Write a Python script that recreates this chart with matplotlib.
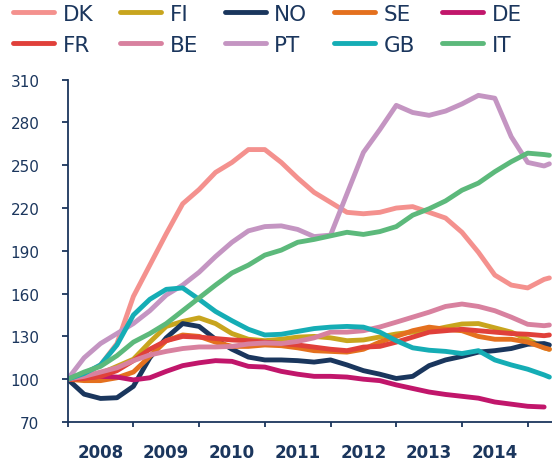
import numpy as np
import matplotlib.pyplot as plt
from matplotlib.ticker import FixedLocator, NullFormatter, FixedFormatter

# quarterly readings, index 2008Q1 = 100
years = [2008.0, 2008.25, 2008.5, 2008.75, 2009.0, 2009.25, 2009.5, 2009.75,
         2010.0, 2010.25, 2010.5, 2010.75, 2011.0, 2011.25, 2011.5, 2011.75,
         2012.0, 2012.25, 2012.5, 2012.75, 2013.0, 2013.25, 2013.5, 2013.75,
         2014.0, 2014.25, 2014.5, 2014.75, 2015.0, 2015.25, 2015.33]

dk = [100, 103, 110, 125, 158, 180, 202, 223, 233, 245, 252, 261, 261, 252, 241, 231,
      224, 217, 216, 217, 220, 221, 217, 213, 203, 189, 173, 166, 164, 170, 171]
fi = [100, 102, 104, 109, 114, 126, 137, 140.5, 143, 139, 132, 128, 127, 128, 129.5, 130,
      129, 127, 127.5, 129.6, 131.7, 133, 134, 136.5, 138.7, 139, 136, 133, 128, 122, 121]
no = [100, 89.5, 86.5, 87, 95, 115, 129, 139, 137, 128, 121, 115.5, 113.5, 113.5, 113, 112,
      113.5, 110, 106, 103.5, 100.5, 102, 109.5, 113.5, 116, 119, 120, 121.5, 124.5, 125, 124]
se = [100, 99, 99, 101, 105, 116, 127, 131, 130, 126, 123, 123, 124, 123.5, 122, 120,
      119.5, 119, 121, 126, 130, 134, 136.5, 135, 134, 130, 128, 128, 126, 122, 121]
de = [100, 101, 102, 101.5, 99.5, 101, 105.5, 109.5, 111.5, 113, 112.5, 109, 108.5, 105.5, 103.5, 102,
      102, 101.5, 100, 99, 96, 93.5, 91, 89.3, 88, 86.7, 84, 82.5, 81, 80.5, np.nan]
fr = [100, 100.5, 102, 106, 113, 121, 127, 130, 129.5, 128.5, 127.5, 127, 126, 125, 124, 122.5,
      121, 120, 122.5, 123, 126, 129.5, 133, 134, 135, 134, 133, 132, 131.5, 130.5, 131]
be = [100, 102, 105, 108, 113, 117, 119.5, 121.5, 122.6, 122.6, 123, 124.7, 125.4, 125, 126.5, 129,
      133, 133, 134, 136.6, 140, 143.5, 147, 151, 152.7, 151, 148, 143.5, 138.5, 137.5, 138]
pt = [100, 115, 125, 132, 139, 148, 159, 166, 175, 186, 196, 204, 207, 207.5, 205, 200,
      201, 230, 259, 275, 292, 287, 285, 288, 293, 299, 297, 270, 252, 249.5, 251]
gb = [100, 104, 110, 124, 145, 156, 163, 164, 156, 147.5, 141, 135, 131, 131.5, 133.5, 135.5,
      136.5, 137, 136.5, 133, 127, 122, 120.3, 119.5, 118, 120, 113.5, 110, 107, 103, 101.5]
it = [100, 105, 109, 116.5, 126, 132, 139, 148, 157, 166, 174.5, 180, 187, 190.5, 196, 198,
      200.5, 203, 201.5, 203.5, 207, 215, 219.5, 225, 232.5, 237.5, 245.5, 252.5, 258.5, 257.5, 257]

countries = ['DK', 'FI', 'NO', 'SE', 'DE', 'FR', 'BE', 'PT', 'GB', 'IT']
values = [dk, fi, no, se, de, fr, be, pt, gb, it]
colors = ['#f4918e', '#c8a51e', '#1a365d', '#e4701e', '#c1166b',
          '#e0403a', '#d8819f', '#c495c2', '#15adb5', '#5cb97b']

year_labels = ['2008', '2009', '2010', '2011', '2012', '2013', '2014']
yticks = [70, 100, 130, 160, 190, 220, 250, 280, 310]

navy = '#1b365d'

fig = plt.figure(figsize=(5.52, 4.64), dpi=100)
ax = fig.add_axes([0.1226, 0.0884, 0.8774, 0.7377])

lines = {}
for name, vals, c in zip(countries, values, colors):
    ln, = ax.plot(years, vals, color=c, lw=3.5, label=name,
                  solid_capstyle='round', solid_joinstyle='round')
    lines[name] = ln

ax.set_xlim(2008.0, 2015.37)
ax.set_ylim(70, 310)

for s in ['top', 'right']:
    ax.spines[s].set_visible(False)
for s in ['left', 'bottom']:
    ax.spines[s].set_color(navy)
    ax.spines[s].set_linewidth(1.3)

ax.set_yticks(yticks)
ax.tick_params(axis='y', colors=navy, length=4.3, width=1.3, pad=16, labelsize=11)

# year boundaries as ticks, labels in the middle of each year
ax.xaxis.set_major_locator(FixedLocator(np.arange(2008, 2016)))
ax.xaxis.set_major_formatter(NullFormatter())
ax.xaxis.set_minor_locator(FixedLocator(np.arange(2008.5, 2015, 1.0)))
ax.xaxis.set_minor_formatter(FixedFormatter(year_labels))
ax.tick_params(axis='x', which='major', colors=navy, length=3.8, width=1.3)
ax.tick_params(axis='x', which='minor', length=0, pad=15, labelsize=12,
               labelcolor=navy)
for lab in ax.get_xticklabels(minor=True):
    lab.set_fontweight('bold')

order = ['DK', 'FR', 'FI', 'BE', 'NO', 'PT', 'SE', 'GB', 'DE', 'IT']
leg = fig.legend([lines[k] for k in order], order, ncol=5, loc='upper left',
                 bbox_to_anchor=(13 / 552, 1 - 5 / 464), frameon=False,
                 fontsize=15.5, handlelength=1.9, handletextpad=0.4,
                 columnspacing=1.25, labelspacing=0.5, borderpad=0,
                 borderaxespad=0)
for t in leg.get_texts():
    t.set_color(navy)

plt.savefig('out.png', dpi=100)
